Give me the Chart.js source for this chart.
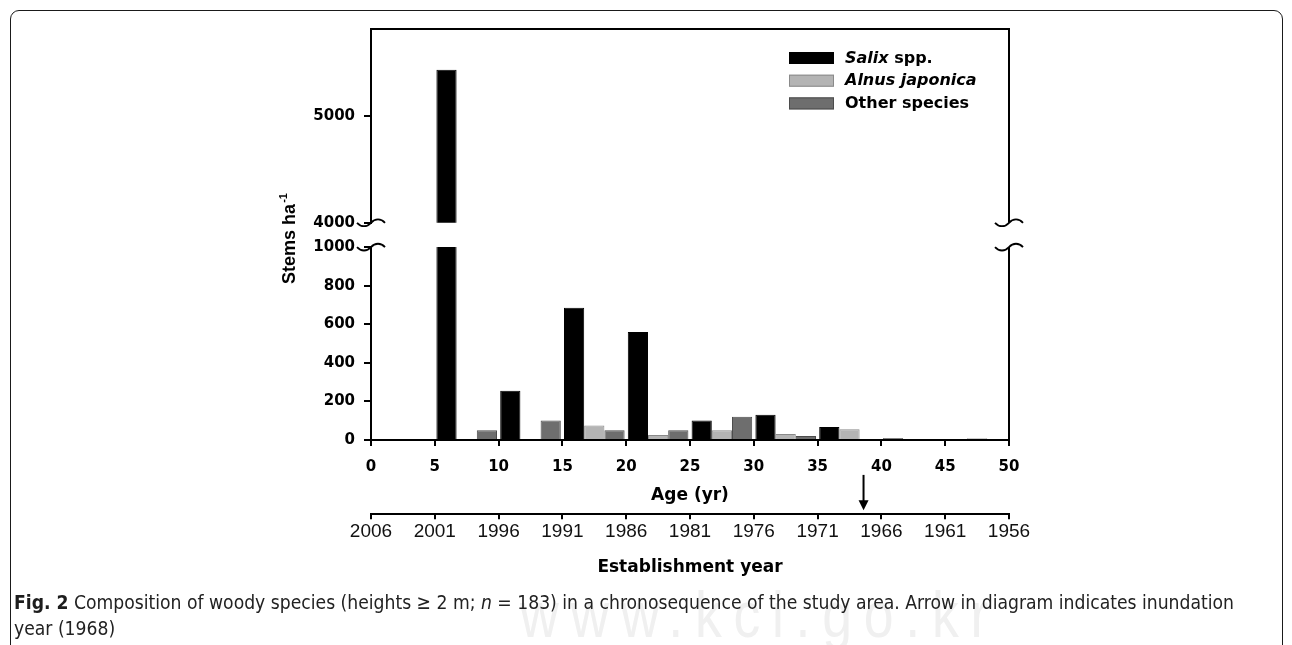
<!DOCTYPE html>
<html>
<head>
<meta charset="utf-8">
<script src="https://cdn.jsdelivr.net/npm/chart.js@4.4.1/dist/chart.umd.min.js"></script>
<style>
  html, body { margin: 0; padding: 0; background: #fff; }
  #wrap { position: relative; width: 1292px; height: 645px; overflow: hidden; }
  #frame { position: absolute; left: 10px; top: 10px; width: 1273px; height: 700px;
    border: 1.5px solid #1a1a1a; border-radius: 9px; box-sizing: border-box; }
  #chart { position: absolute; left: 0; top: 0; }
  #mark { position: absolute; left: 520px; top: 578px; font: 64px "Liberation Sans Narrow", "Liberation Sans", sans-serif;
    letter-spacing: 14px; color: #f0f0f0; white-space: nowrap; }
  #caption { position: absolute; left: 14px; top: 589px; font: 20px "Liberation Sans Narrow", "DejaVu Sans Condensed", "Liberation Sans", sans-serif;
    line-height: 26px; color: #222; white-space: nowrap; transform-origin: 0 0; }
  #caption b { color: #1d1d1d; }
</style>
</head>
<body>
<div id="wrap">
  <div id="mark">www.kci.go.kr</div>
  <div id="frame"></div>
  <canvas id="chart" width="1292" height="645"></canvas>
  <div id="caption">
    <div><span id="line1"><b>Fig. 2</b> Composition of woody species (heights ≥ 2 m; <i>n</i> = 183) in a chronosequence of the study area. Arrow in diagram indicates inundation</span></div>
    <div>year (1968)</div>
  </div>
</div>
<script>
// classes d'âge de 5 ans (0-5 ... 45-50)
const ageClasses = ['0-5', '5-10', '10-15', '15-20', '20-25', '25-30', '30-35', '35-40', '40-45', '45-50']
const salix = [0, 5430, 255, 685, 560, 100, 130, 67, 8, 0]
const alnus = [0, 0, 0, 75, 25, 50, 30, 55, 0, 8]
const other = [0, 50, 100, 50, 50, 120, 20, 0, 0, 0]

const lowTicks = [0, 200, 400, 600, 800, 1000]
const highTicks = [4000, 5000]
const ageTicks = [0, 5, 10, 15, 20, 25, 30, 35, 40, 45, 50]
const yearTicks = [2006, 2001, 1996, 1991, 1986, 1981, 1976, 1971, 1966, 1961, 1956]
const arrowYear = 1967.4

const BOLD = '"DejaVu Sans", sans-serif'
const AXIS_W = 371

// ajuste la légende du bas à la largeur de la référence
const line1 = document.getElementById('line1')
const cap = document.getElementById('caption')
cap.style.transform = 'scaleX(' + (1220 / line1.getBoundingClientRect().width) + ')'
const mark = document.getElementById('mark')
mark.style.transform = 'scaleX(' + (480 / mark.getBoundingClientRect().width) + ')'
mark.style.transformOrigin = '0 0'

function tildeMark(ctx, x, y) {
  ctx.beginPath()
  ctx.moveTo(x - 14, y)
  ctx.bezierCurveTo(x - 10, y + 4.5, x - 4, y + 4.5, x, y)
  ctx.bezierCurveTo(x + 4, y - 4.5, x + 10, y - 4.5, x + 14, y)
  ctx.stroke()
}

const decorations = {
  id: 'decorations',
  afterDraw(chart) {
    const ctx = chart.ctx
    const s = chart.scales
    const left = s.y.right
    const right = chart.chartArea.right
    ctx.save()
    ctx.strokeStyle = '#000'
    ctx.lineWidth = 2
    // cadre haut et droit
    ctx.beginPath()
    ctx.moveTo(left, s.yTop.top)
    ctx.lineTo(right, s.yTop.top)
    ctx.lineTo(right, s.yTop.bottom)
    ctx.moveTo(right, s.y.top)
    ctx.lineTo(right, s.y.bottom)
    ctx.stroke()
    // marques de coupure
    ctx.lineWidth = 1.8
    ;[left, right].forEach((x) => {
      tildeMark(ctx, x, s.yTop.bottom)
      tildeMark(ctx, x, s.y.top)
    })

    // titre de l'axe Y avec exposant
    ctx.fillStyle = '#000'
    ctx.translate(295, 239)
    ctx.rotate(-Math.PI / 2)
    ctx.font = 'bold 18px "Liberation Sans", Arial, sans-serif'
    const w1 = ctx.measureText('Stems ha').width
    ctx.font = 'bold 11px "Liberation Sans", Arial, sans-serif'
    const w2 = ctx.measureText('-1').width
    const x0 = -(w1 + w2) / 2
    ctx.font = 'bold 18px "Liberation Sans", Arial, sans-serif'
    ctx.textBaseline = 'alphabetic'
    ctx.fillText('Stems ha', x0, 0)
    ctx.font = 'bold 11px "Liberation Sans", Arial, sans-serif'
    ctx.fillText('-1', x0 + w1 + 1, -8)
    ctx.setTransform(1, 0, 0, 1, 0, 0)

    // légende
    const lx = right - 220
    const ly = chart.chartArea.top + 23
    const items = [
      [['Salix', true], [' spp.', false]],
      [['Alnus japonica', true]],
      [['Other species', false]],
    ]
    items.forEach((parts, i) => {
      const ds = chart.data.datasets[i]
      const y = ly + i * 22.7
      ctx.fillStyle = ds.backgroundColor
      ctx.fillRect(lx, y, 45, 12)
      ctx.strokeStyle = ds.borderColor
      ctx.lineWidth = 1
      ctx.strokeRect(lx + 0.5, y + 0.5, 44, 11)
      let tx = lx + 56
      ctx.fillStyle = '#000'
      ctx.textBaseline = 'middle'
      parts.forEach(([txt, it]) => {
        ctx.font = (it ? 'italic ' : '') + 'bold 16px ' + BOLD
        ctx.fillText(txt, tx, y + 6.5)
        tx += ctx.measureText(txt).width
      })
    })

    // flèche : année d'inondation
    const ax = s.yr.getPixelForValue(arrowYear)
    const tip = s.yr.top - 4
    ctx.strokeStyle = '#000'
    ctx.lineWidth = 2
    ctx.beginPath()
    ctx.moveTo(ax, s.age.top + 35)
    ctx.lineTo(ax, tip - 8)
    ctx.stroke()
    ctx.fillStyle = '#000'
    ctx.beginPath()
    ctx.moveTo(ax - 5, tip - 10)
    ctx.lineTo(ax + 5, tip - 10)
    ctx.lineTo(ax, tip)
    ctx.closePath()
    ctx.fill()
    ctx.restore()
  },
}

const asTicks = (list) => (scale) => {
  scale.ticks = list.map((v) => ({ value: v }))
}
const fixWidth = (scale) => {
  scale.width = AXIS_W
}
const yAxis = (extra) => Object.assign({
  type: 'linear',
  position: 'left',
  stack: 'v',
  stacked: false,
  afterFit: fixWidth,
  border: { display: true, color: '#000', width: 2 },
  grid: { drawOnChartArea: false, drawTicks: true, tickLength: 7, color: '#000', lineWidth: 2 },
  ticks: { font: { family: BOLD, size: 15, weight: 'bold' }, color: '#000', padding: 9, callback: (v) => String(v) },
}, extra)

const barStyle = (fill, line) => ({ backgroundColor: fill, borderColor: line, borderWidth: 1, clip: 0 })

new Chart(document.getElementById('chart'), {
  type: 'bar',
  data: {
    labels: ageClasses,
    datasets: [
      Object.assign({ label: 'Salix spp.', data: salix, stack: 'salix', yAxisID: 'y' }, barStyle('#000000', '#000000')),
      Object.assign({ label: 'Alnus japonica', data: alnus, stack: 'alnus', yAxisID: 'y' }, barStyle('#b4b4b4', '#8a8a8a')),
      Object.assign({ label: 'Other species', data: other, stack: 'other', yAxisID: 'y' }, barStyle('#6e6e6e', '#4c4c4c')),
      // même série au-dessus de la coupure
      Object.assign({ label: 'Salix spp. (haut)', data: salix, stack: 'salix', yAxisID: 'yTop' }, barStyle('#000000', '#000000')),
    ],
  },
  options: {
    responsive: false,
    animation: false,
    categoryPercentage: 0.95,
    barPercentage: 1,
    layout: { padding: { left: 0, right: 283, top: 29, bottom: 66.8 } },
    plugins: { legend: { display: false }, tooltip: { enabled: false } },
    scales: {
      x: { type: 'category', display: false, offset: true, weight: 0 },
      age: {
        type: 'linear', axis: 'x', position: 'bottom', min: 0, max: 50, weight: 1, offset: false,
        afterBuildTicks: asTicks(ageTicks),
        border: { display: true, color: '#000', width: 2 },
        grid: { offset: false, drawOnChartArea: false, drawTicks: true, tickLength: 6, color: '#000', lineWidth: 2 },
        ticks: { font: { family: BOLD, size: 15, weight: 'bold' }, color: '#000', padding: 12.7, maxRotation: 0, autoSkip: false, callback: (v) => String(v) },
        title: { display: true, text: 'Age (yr)', font: { family: BOLD, size: 17, weight: 'bold' }, color: '#000', padding: { top: -3.7, bottom: 8.2 } },
      },
      yr: {
        type: 'linear', axis: 'x', position: 'bottom', min: 1956, max: 2006, reverse: true, weight: 2, offset: false,
        afterBuildTicks: asTicks(yearTicks),
        border: { display: true, color: '#000', width: 2 },
        grid: { offset: false, drawOnChartArea: false, drawTicks: true, tickLength: 5, color: '#000', lineWidth: 2 },
        ticks: { font: { family: '"Liberation Sans", Arial, sans-serif', size: 19, lineHeight: 1 }, color: '#111', padding: 3.5, maxRotation: 0, autoSkip: false, callback: (v) => String(v) },
        title: { display: true, text: 'Establishment year', font: { family: BOLD, size: 17, weight: 'bold' }, color: '#000', padding: { top: 12.6, bottom: 0 } },
      },
      yTop: yAxis({ min: 4000, max: 5811, weight: 3, stackWeight: 194.3, afterBuildTicks: asTicks(highTicks) }),
      yGap: {
        type: 'linear', position: 'left', stack: 'v', stackWeight: 24.4, weight: 2, min: 0, max: 1, display: true,
        afterFit: fixWidth,
        border: { display: false }, grid: { display: false }, ticks: { display: false },
      },
      y: yAxis({ min: 0, max: 1000, weight: 1, stackWeight: 193.3, afterBuildTicks: asTicks(lowTicks) }),
    },
  },
  plugins: [decorations],
})
</script>
</body>
</html>
